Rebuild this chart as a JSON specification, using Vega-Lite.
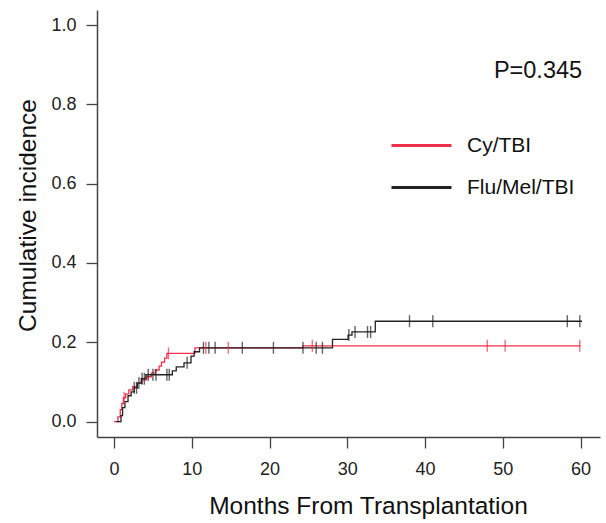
{
  "$schema": "https://vega.github.io/schema/vega-lite/v6.json",
  "autosize": {"type": "none"},
  "padding": {"left": 97, "top": 10, "right": 6, "bottom": 86},
  "width": 503,
  "height": 427,
  "config": {
    "view": {"stroke": null},
    "font": "Liberation Sans",
    "axis": {"grid": false, "domainColor": "#444444", "domainWidth": 1.5, "tickColor": "#444444", "tickWidth": 1.3, "tickSize": 11, "labelFont": "Liberation Sans", "labelFontSize": 18, "labelColor": "#222222", "titleFont": "Liberation Sans", "titleFontSize": 24.5, "titleFontWeight": "normal", "titleColor": "#111111"}
  },
  "datasets": {
    "curves": [
      {"m": 0.0, "v": 0.0, "g": "Cy/TBI"},
      {"m": 0.5, "v": 0.012, "g": "Cy/TBI"},
      {"m": 0.8, "v": 0.03, "g": "Cy/TBI"},
      {"m": 1.0, "v": 0.045, "g": "Cy/TBI"},
      {"m": 1.2, "v": 0.06, "g": "Cy/TBI"},
      {"m": 1.5, "v": 0.07, "g": "Cy/TBI"},
      {"m": 1.9, "v": 0.08, "g": "Cy/TBI"},
      {"m": 2.4, "v": 0.088, "g": "Cy/TBI"},
      {"m": 3.0, "v": 0.097, "g": "Cy/TBI"},
      {"m": 3.6, "v": 0.105, "g": "Cy/TBI"},
      {"m": 4.2, "v": 0.113, "g": "Cy/TBI"},
      {"m": 4.8, "v": 0.122, "g": "Cy/TBI"},
      {"m": 5.3, "v": 0.13, "g": "Cy/TBI"},
      {"m": 5.8, "v": 0.14, "g": "Cy/TBI"},
      {"m": 6.1, "v": 0.15, "g": "Cy/TBI"},
      {"m": 6.5, "v": 0.16, "g": "Cy/TBI"},
      {"m": 6.8, "v": 0.172, "g": "Cy/TBI"},
      {"m": 10.4, "v": 0.186, "g": "Cy/TBI"},
      {"m": 24.3, "v": 0.191, "g": "Cy/TBI"},
      {"m": 60.0, "v": 0.191, "g": "Cy/TBI"},
      {"m": 0.3, "v": 0.0, "g": "Flu/Mel/TBI"},
      {"m": 0.9, "v": 0.015, "g": "Flu/Mel/TBI"},
      {"m": 1.1, "v": 0.035, "g": "Flu/Mel/TBI"},
      {"m": 1.4, "v": 0.05, "g": "Flu/Mel/TBI"},
      {"m": 1.8, "v": 0.065, "g": "Flu/Mel/TBI"},
      {"m": 2.2, "v": 0.075, "g": "Flu/Mel/TBI"},
      {"m": 2.6, "v": 0.085, "g": "Flu/Mel/TBI"},
      {"m": 3.0, "v": 0.097, "g": "Flu/Mel/TBI"},
      {"m": 3.5, "v": 0.108, "g": "Flu/Mel/TBI"},
      {"m": 4.1, "v": 0.118, "g": "Flu/Mel/TBI"},
      {"m": 7.5, "v": 0.128, "g": "Flu/Mel/TBI"},
      {"m": 8.0, "v": 0.138, "g": "Flu/Mel/TBI"},
      {"m": 9.0, "v": 0.148, "g": "Flu/Mel/TBI"},
      {"m": 9.9, "v": 0.165, "g": "Flu/Mel/TBI"},
      {"m": 10.3, "v": 0.176, "g": "Flu/Mel/TBI"},
      {"m": 11.0, "v": 0.186, "g": "Flu/Mel/TBI"},
      {"m": 28.1, "v": 0.207, "g": "Flu/Mel/TBI"},
      {"m": 30.1, "v": 0.218, "g": "Flu/Mel/TBI"},
      {"m": 30.6, "v": 0.226, "g": "Flu/Mel/TBI"},
      {"m": 33.6, "v": 0.253, "g": "Flu/Mel/TBI"},
      {"m": 60.2, "v": 0.253, "g": "Flu/Mel/TBI"}
    ],
    "censor": [
      {"m": 1.3, "v": 0.06, "g": "Cy/TBI"},
      {"m": 7.0, "v": 0.172, "g": "Cy/TBI"},
      {"m": 11.8, "v": 0.186, "g": "Cy/TBI"},
      {"m": 14.7, "v": 0.186, "g": "Cy/TBI"},
      {"m": 25.5, "v": 0.191, "g": "Cy/TBI"},
      {"m": 48.0, "v": 0.191, "g": "Cy/TBI"},
      {"m": 50.3, "v": 0.191, "g": "Cy/TBI"},
      {"m": 59.9, "v": 0.191, "g": "Cy/TBI"},
      {"m": 2.6, "v": 0.085, "g": "Flu/Mel/TBI"},
      {"m": 2.9, "v": 0.085, "g": "Flu/Mel/TBI"},
      {"m": 3.2, "v": 0.097, "g": "Flu/Mel/TBI"},
      {"m": 3.6, "v": 0.108, "g": "Flu/Mel/TBI"},
      {"m": 3.9, "v": 0.108, "g": "Flu/Mel/TBI"},
      {"m": 4.4, "v": 0.118, "g": "Flu/Mel/TBI"},
      {"m": 5.0, "v": 0.118, "g": "Flu/Mel/TBI"},
      {"m": 5.4, "v": 0.118, "g": "Flu/Mel/TBI"},
      {"m": 6.8, "v": 0.118, "g": "Flu/Mel/TBI"},
      {"m": 7.1, "v": 0.118, "g": "Flu/Mel/TBI"},
      {"m": 9.4, "v": 0.148, "g": "Flu/Mel/TBI"},
      {"m": 11.5, "v": 0.186, "g": "Flu/Mel/TBI"},
      {"m": 12.2, "v": 0.186, "g": "Flu/Mel/TBI"},
      {"m": 13.0, "v": 0.186, "g": "Flu/Mel/TBI"},
      {"m": 16.5, "v": 0.186, "g": "Flu/Mel/TBI"},
      {"m": 20.5, "v": 0.186, "g": "Flu/Mel/TBI"},
      {"m": 24.3, "v": 0.186, "g": "Flu/Mel/TBI"},
      {"m": 26.0, "v": 0.186, "g": "Flu/Mel/TBI"},
      {"m": 26.8, "v": 0.186, "g": "Flu/Mel/TBI"},
      {"m": 30.2, "v": 0.218, "g": "Flu/Mel/TBI"},
      {"m": 31.0, "v": 0.226, "g": "Flu/Mel/TBI"},
      {"m": 32.6, "v": 0.226, "g": "Flu/Mel/TBI"},
      {"m": 33.0, "v": 0.226, "g": "Flu/Mel/TBI"},
      {"m": 38.0, "v": 0.253, "g": "Flu/Mel/TBI"},
      {"m": 41.0, "v": 0.253, "g": "Flu/Mel/TBI"},
      {"m": 58.3, "v": 0.253, "g": "Flu/Mel/TBI"},
      {"m": 59.9, "v": 0.253, "g": "Flu/Mel/TBI"}
    ],
    "annot": [
      {"m": 60.2, "v": 0.884, "label": "P=0.345"}
    ]
  },
  "layer": [
    {
      "data": {"name": "curves"},
      "mark": {"type": "line", "interpolate": "step-after", "strokeWidth": 1.3},
      "encoding": {
        "x": {"field": "m", "type": "quantitative", "scale": {"domain": [-2.19, 62.5], "nice": false, "zero": false}, "axis": {"values": [0, 10, 20, 30, 40, 50, 60], "title": "Months From Transplantation", "labelPadding": 12, "titlePadding": 16, "titleX": 271}},
        "y": {"field": "v", "type": "quantitative", "scale": {"domain": [-0.039, 1.038], "nice": false, "zero": false}, "axis": {"values": [0, 0.2, 0.4, 0.6, 0.8, 1.0], "format": ".1f", "title": "Cumulative incidence", "labelPadding": 10, "titlePadding": 10, "titleY": 205}},
        "color": {"field": "g", "type": "nominal", "scale": {"domain": ["Cy/TBI", "Flu/Mel/TBI"], "range": ["#f0304a", "#222222"]}, "legend": {"orient": "none", "legendX": 293, "legendY": 104, "title": null, "symbolType": "stroke", "symbolSize": 3600, "symbolStrokeWidth": 3, "labelFontSize": 21, "labelFont": "Liberation Sans", "labelColor": "#111111", "rowPadding": -3, "labelOffset": 14, "padding": 0}}
      }
    },
    {
      "data": {"name": "censor"},
      "mark": {"type": "tick", "orient": "vertical", "size": 12, "thickness": 1.4},
      "encoding": {
        "x": {"field": "m", "type": "quantitative"},
        "y": {"field": "v", "type": "quantitative"},
        "color": {"field": "g", "type": "nominal", "legend": null}
      }
    },
    {
      "data": {"name": "annot"},
      "mark": {"type": "text", "align": "right", "baseline": "middle", "fontSize": 23.5, "font": "Liberation Sans", "color": "#111111"},
      "encoding": {
        "x": {"field": "m", "type": "quantitative"},
        "y": {"field": "v", "type": "quantitative"},
        "text": {"field": "label"}
      }
    }
  ]
}
